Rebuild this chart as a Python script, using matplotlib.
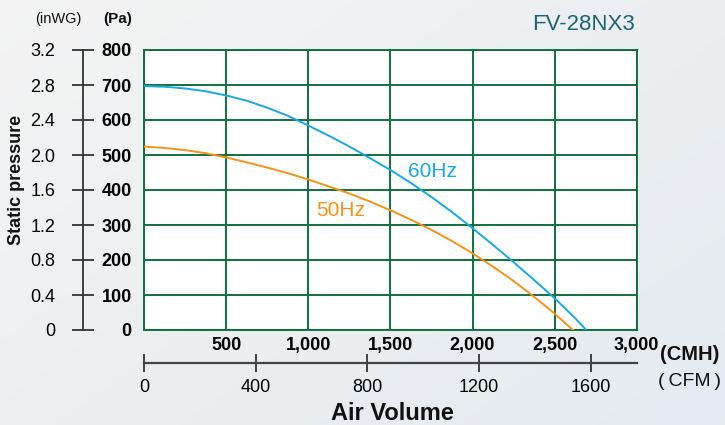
import numpy as np
import matplotlib.pyplot as plt

plt.rcParams['font.family'] = ['Liberation Sans', 'DejaVu Sans']

# Fan performance curves: air volume (CMH) vs static pressure (Pa)
cmh_60 = [0, 125, 250, 375, 500, 625, 750, 875, 1000, 1125, 1250, 1375,
          1500, 1625, 1750, 1875, 2000, 2125, 2250, 2375, 2500, 2625, 2693]
pa_60 = [697, 695, 690, 682, 670, 655, 635, 612, 584, 555, 524, 491,
         457, 420, 380, 337, 291, 243, 194, 143, 91, 34, 0]

cmh_50 = [0, 125, 250, 375, 500, 625, 750, 875, 1000, 1125, 1250, 1375,
          1500, 1625, 1750, 1875, 2000, 2125, 2250, 2375, 2500, 2612]
pa_50 = [524, 520, 514, 505, 493, 479, 464, 448, 430, 410, 390, 367,
         342, 315, 286, 254, 219, 181, 140, 95, 47, 0]

cmh_ticks = [500, 1000, 1500, 2000, 2500, 3000]
cmh_labels = ['500', '1,000', '1,500', '2,000', '2,500', '3,000']
cfm_ticks = [0, 400, 800, 1200, 1600]
pa_ticks = [0, 100, 200, 300, 400, 500, 600, 700, 800]
inwg_ticks = [0, 0.4, 0.8, 1.2, 1.6, 2.0, 2.4, 2.8, 3.2]
inwg_labels = ['0', '0.4', '0.8', '1.2', '1.6', '2.0', '2.4', '2.8', '3.2']

CMH_PER_CFM = 1.7
PA_PER_INWG = 250.0

GRID = '#12703f'
C60 = '#1aa8df'
C50 = '#f5921e'
AXC = '#333333'
W, H = 725, 425

fig = plt.figure(figsize=(W / 100, H / 100), dpi=100)

# soft background wash
bg = fig.add_axes([0, 0, 1, 1], zorder=-10)
yy, xx = np.mgrid[0:1:200j, 0:1:200j]
t = 0.55 * xx + 0.45 * yy
c0 = np.array([0.955, 0.955, 0.955])
c1 = np.array([0.895, 0.918, 0.937])
img = c0[None, None, :] * (1 - t[..., None]) + c1[None, None, :] * t[..., None]
bg.imshow(img, extent=[0, 1, 0, 1], aspect='auto', origin='upper')
bg.axis('off')

x0, x1 = 144.3, 636.6
y_top, y_bot = 50, 330
ax = fig.add_axes([x0 / W, 1 - y_bot / H, (x1 - x0) / W, (y_bot - y_top) / H])
ax.set_facecolor('white')
ax.set_xlim(0, 3000)
ax.set_ylim(0, 800)

ax.set_xticks([0] + cmh_ticks)
ax.set_xticklabels([''] + cmh_labels, fontsize=13, fontweight='bold')
ax.set_yticks(pa_ticks)
ax.set_yticklabels([str(v) for v in pa_ticks], fontsize=13, fontweight='bold')
ax.tick_params(axis='x', length=0, pad=5)
ax.tick_params(axis='y', length=0, pad=9)
ax.grid(True, color=GRID, linewidth=1.4)
ax.set_axisbelow(True)
for s in ax.spines.values():
    s.set_color(GRID)
    s.set_linewidth(1.4)

ax.plot(cmh_60, pa_60, color=C60, linewidth=1.4, zorder=3,
        solid_joinstyle='round', antialiased=True)
ax.plot(cmh_50, pa_50, color=C50, linewidth=1.4, zorder=3,
        solid_joinstyle='round', antialiased=True)

ax.text(1755, 452, '60Hz', color=C60, fontsize=15, ha='center', va='center')
ax.text(1195, 342, '50Hz', color=C50, fontsize=15, ha='center', va='center')

# inWG axis on the left
sy = ax.secondary_yaxis(-(x0 - 83) / (x1 - x0),
                        functions=(lambda p: p / PA_PER_INWG, lambda w: w * PA_PER_INWG))
sy.set_yticks(inwg_ticks)
sy.set_yticklabels(inwg_labels, fontsize=13)
sy.tick_params(direction='inout', length=16, width=1.3, color=AXC, pad=12)
sy.spines['left'].set_color(AXC)
sy.spines['left'].set_linewidth(1.3)

# CFM axis below
sx = ax.secondary_xaxis(-(363 - y_bot) / (y_bot - y_top),
                        functions=(lambda c: c / CMH_PER_CFM, lambda f: f * CMH_PER_CFM))
sx.set_xticks(cfm_ticks)
sx.set_xticklabels([str(v) for v in cfm_ticks], fontsize=13)
sx.tick_params(direction='inout', length=13, width=1.3, color=AXC, pad=5)
sx.spines['bottom'].set_color('#444444')
sx.spines['bottom'].set_linewidth(1.6)

fig.text(58 / W, 1 - 19 / H, '(inWG)', fontsize=10.5, ha='center', va='center', color='#111')
fig.text(118 / W, 1 - 19 / H, '(Pa)', fontsize=11, ha='center', va='center',
         color='#111', fontweight='bold')
fig.text(690 / W, 1 - 354 / H, '(CMH)', fontsize=14.5, ha='center', va='center',
         fontweight='bold', color='#111')
fig.text(690 / W, 1 - 381 / H, '(\u2009CFM\u2009)', fontsize=14, ha='center', va='center',
         color='#111')
fig.text(392 / W, 1 - 413 / H, 'Air Volume', fontsize=17, ha='center', va='center',
         fontweight='bold', color='#111')
fig.text(17 / W, 1 - 180 / H, 'Static pressure', fontsize=13, rotation=90,
         ha='center', va='center', fontweight='bold', color='#111')
fig.text(635 / W, 1 - 25 / H, 'FV-28NX3', fontsize=16, ha='right', va='center',
         color='#1d6470')

fig.savefig('out.png', dpi=100)
